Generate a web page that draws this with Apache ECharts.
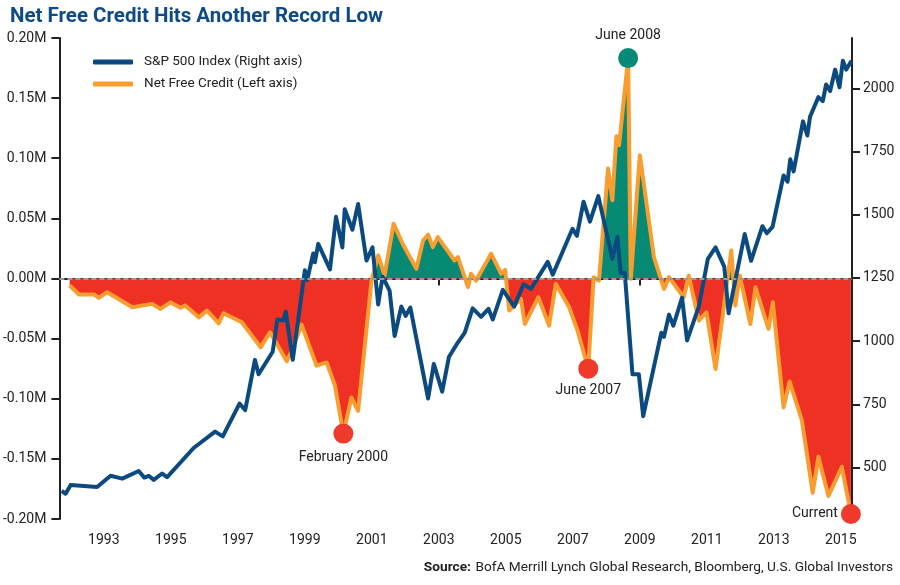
<!DOCTYPE html>
<html><head><meta charset="utf-8">
<script src="https://cdn.jsdelivr.net/npm/echarts@6/dist/echarts.min.js"></script>
<style>html,body{margin:0;padding:0;background:#fff}#c{width:900px;height:585px}</style>
</head><body><div id="c"></div>
<script>
// Net Free Credit (in millions, left axis), dates as decimal years
const nfcYears=[1991.98,1992.26,1992.71,1992.85,1993.10,1993.85,1994.44,1994.69,1994.99,1995.28,1995.43,1995.83,1996.08,1996.43,1996.57,1997.12,1997.68,1997.96,1998.11,1998.46,1998.61,1998.90,1999.35,1999.65,1999.90,2000.15,2000.39,2000.59,2000.99,2001.19,2001.38,2001.65,2001.93,2002.33,2002.53,2002.68,2002.82,2002.97,2003.47,2003.57,2003.87,2003.96,2004.11,2004.56,2004.86,2004.98,2005.10,2005.45,2005.57,2005.97,2006.29,2006.49,2006.89,2007.14,2007.46,2007.62,2007.78,2008.05,2008.18,2008.30,2008.38,2008.65,2008.73,2009.00,2009.42,2009.72,2009.87,2010.31,2010.46,2010.76,2010.99,2011.26,2011.73,2011.85,2011.98,2012.30,2012.45,2012.84,2012.97,2013.29,2013.47,2013.84,2014.16,2014.33,2014.63,2015.03,2015.30];
const nfcValues=[-0.0058,-0.0133,-0.0133,-0.0161,-0.0114,-0.0239,-0.0211,-0.0253,-0.0198,-0.0244,-0.0225,-0.0323,-0.0267,-0.0373,-0.0289,-0.0364,-0.0573,-0.0448,-0.0517,-0.0689,-0.0600,-0.0383,-0.0725,-0.0698,-0.0892,-0.1290,-0.0989,-0.1100,-0.0017,0.0192,0.0025,0.0456,0.0283,0.0081,0.0317,0.0364,0.0261,0.0344,0.0150,0.0178,-0.0072,0.0039,-0.0017,0.0206,0.0039,0.0072,-0.0267,-0.0169,-0.0378,-0.0156,-0.0392,-0.0044,-0.0239,-0.0433,-0.0750,0.0011,-0.0017,0.0914,0.0650,0.1183,0.1108,0.1833,-0.0003,0.1025,0.0178,-0.0086,0.0011,-0.0156,0.0025,-0.0350,-0.0281,-0.0753,0.0233,-0.0225,0.0025,-0.0378,-0.0072,-0.0419,-0.0198,-0.1072,-0.0856,-0.1183,-0.1781,-0.1483,-0.1808,-0.1567,-0.1958];

// S&P 500 Index (right axis)
const spYears=[1991.74,1991.86,1992.01,1992.80,1993.20,1993.55,1994.04,1994.21,1994.34,1994.49,1994.74,1994.89,1995.68,1996.32,1996.55,1997.05,1997.22,1997.51,1997.62,1998.04,1998.18,1998.36,1998.43,1998.64,1999.00,1999.07,1999.25,1999.30,1999.40,1999.75,1999.93,2000.12,2000.19,2000.42,2000.59,2000.84,2001.02,2001.19,2001.32,2001.53,2001.68,2001.88,2002.01,2002.15,2002.68,2002.85,2003.10,2003.30,2003.52,2003.77,2004.01,2004.26,2004.48,2004.61,2004.91,2005.25,2005.53,2005.75,2006.25,2006.40,2006.99,2007.12,2007.32,2007.51,2007.76,2008.18,2008.33,2008.43,2008.55,2008.78,2008.97,2009.10,2009.64,2009.72,2009.87,2010.00,2010.26,2010.41,2010.76,2011.03,2011.26,2011.52,2011.65,2012.13,2012.32,2012.66,2012.79,2012.96,2013.29,2013.41,2013.49,2013.59,2013.87,2014.00,2014.08,2014.33,2014.46,2014.56,2014.68,2014.83,2014.96,2015.06,2015.16,2015.32];
const spValues=[407,396,431,423,467,456,486,460,467,451,476,462,577,642,623,753,727,926,869,958,1086,1082,1117,926,1281,1242,1347,1312,1385,1284,1492,1371,1522,1441,1543,1319,1371,1145,1255,1200,1020,1137,1100,1133,773,910,800,937,985,1033,1130,1096,1128,1086,1203,1137,1225,1207,1314,1263,1445,1417,1552,1473,1574,1326,1413,1270,1270,869,869,703,1033,1017,1105,1061,1172,1003,1137,1326,1371,1295,1110,1424,1318,1455,1427,1452,1656,1631,1720,1672,1870,1814,1888,1966,1950,2016,1990,2075,2005,2110,2075,2110];

// Tick labels
const yearTicks=[1993,1995,1997,1999,2001,2003,2005,2007,2009,2011,2013,2015];
const rightTicks=[500,750,1000,1250,1500,1750,2000];

// Annotations
const annoLabels=['February 2000','June 2007','June 2008','Current'];
const annoYears=[2000.15,2007.46,2008.65,2015.30];
const annoValues=[-0.1290,-0.0750,0.1833,-0.1958];

const seriesNames=['S&P 500 Index (Right axis)','Net Free Credit (Left axis)'];

const FONT='Roboto';
const BLUE='#0b4a80', ORANGE='#f99d2f', RED='#ef3124', TEAL='#068a74', TXT='#222';
const annoColors=['#ee3a2b','#ee3a2b','#078a77','#ee3a2b'];
const annoPos=['bottom','bottom','top','left'];
const annoDist=[7,5,6,3];

const chart=echarts.init(document.getElementById('c'),null,{renderer:'canvas'});
const zip=(a,b)=>a.map((x,i)=>[x,b[i]]);

const option={
  animation:false,
  backgroundColor:'#fff',
  textStyle:{fontFamily:FONT},
  title:[
    {text:'Net Free Credit Hits Another Record Low',left:5,top:1,
     textStyle:{fontFamily:FONT,fontWeight:'bold',fontSize:20.5,color:'#0d4a86'}},
    {text:'{b|Source:} {n|BofA Merrill Lynch Global Research, Bloomberg, U.S. Global Investors}',right:2,bottom:3,
     textStyle:{fontWeight:'normal',rich:{b:{fontWeight:'bold',fontSize:13.7,fontFamily:FONT,color:TXT},n:{fontWeight:'normal',fontSize:13.7,fontFamily:FONT,color:TXT}}}}
  ],
  legend:{
    orient:'vertical',left:88,top:50,itemWidth:40,itemHeight:5,itemGap:8,icon:'roundRect',
    data:seriesNames,
    textStyle:{fontFamily:FONT,fontSize:13.5,color:TXT,padding:[0,0,0,6]}
  },
  grid:{left:57,right:48,top:38,bottom:66},
  xAxis:{
    type:'value',min:1991.673,max:2015.333,
    axisLine:{show:true,lineStyle:{color:TXT,width:2}},
    axisTick:{show:true,customValues:yearTicks,length:7,lineStyle:{color:TXT,width:2}},
    axisLabel:{customValues:yearTicks,formatter:v=>String(Math.round(v)),color:TXT,fontSize:14,fontFamily:FONT,margin:14},
    splitLine:{show:false}
  },
  yAxis:[
    {type:'value',min:-0.2,max:0.2,interval:0.05,position:'left',
     axisLine:{show:true,lineStyle:{color:TXT,width:2}},
     axisTick:{show:true,length:8,lineStyle:{color:TXT,width:2}},
     axisLabel:{formatter:v=>(Math.abs(v)<1e-9?0:v).toFixed(2)+'M',color:TXT,fontSize:14,fontFamily:FONT,margin:13},
     splitLine:{show:false}},
    {type:'value',min:296,max:2200,position:'right',
     axisLine:{show:true,lineStyle:{color:TXT,width:2}},
     axisTick:{show:true,length:8,customValues:rightTicks,lineStyle:{color:TXT,width:2}},
     axisLabel:{customValues:rightTicks,formatter:v=>String(Math.round(v)),color:TXT,fontSize:14,fontFamily:FONT,margin:11},
     splitLine:{show:false}}
  ],
  series:[
    {name:seriesNames[1],type:'line',yAxisIndex:0,data:zip(nfcYears,nfcValues),
     symbol:'none',z:2,
     lineStyle:{color:ORANGE,width:4,join:'round'},itemStyle:{color:ORANGE},
     areaStyle:{origin:'auto',color:RED,opacity:1},
     markLine:{silent:true,symbol:'none',label:{show:false},animation:false,
       lineStyle:{color:'#9a9a9a',type:[5,3],width:2},data:[{yAxis:0}]}},
    {name:seriesNames[0],type:'line',yAxisIndex:1,data:zip(spYears,spValues),
     symbol:'none',z:3,
     lineStyle:{color:BLUE,width:4,join:'round'},itemStyle:{color:BLUE}},
    {name:'annotations',type:'scatter',yAxisIndex:0,z:5,clip:false,symbolSize:20,
     data:annoYears.map((y,i)=>({value:[y,annoValues[i]],itemStyle:{color:annoColors[i],opacity:1},
       label:{show:true,formatter:annoLabels[i],position:annoPos[i],distance:annoDist[i],
              color:TXT,fontSize:14,fontFamily:FONT}}))}
  ]
};
chart.setOption(option);

// area colour: teal above zero, red below zero
const yTop=chart.convertToPixel({yAxisIndex:0},0.2);
const yBot=chart.convertToPixel({yAxisIndex:0},-0.2);
const yZero=chart.convertToPixel({yAxisIndex:0},0);
const f=(yZero-yTop)/(yBot-yTop);
chart.setOption({series:[{name:seriesNames[1],areaStyle:{color:{type:'linear',x:0,y:yTop,x2:0,y2:yBot,global:true,
  colorStops:[{offset:0,color:TEAL},{offset:f,color:TEAL},{offset:f,color:RED},{offset:1,color:RED}]}}}]});
</script>
</body></html>
